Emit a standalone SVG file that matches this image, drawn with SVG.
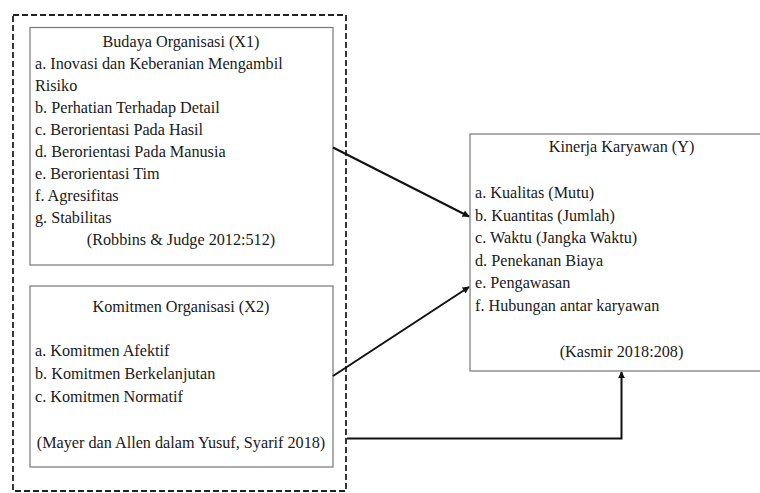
<svg xmlns="http://www.w3.org/2000/svg" width="760" height="493" viewBox="0 0 760 493">
<defs>
<marker id="ah" viewBox="0 0 10 10" refX="9" refY="5" markerWidth="7" markerHeight="7" markerUnits="userSpaceOnUse" orient="auto">
<path d="M0,0 L10,5 L0,10 z" fill="#111"/>
</marker>
<style>
text{font-family:"Liberation Serif","Times New Roman",serif;font-size:16.2px;fill:#1a1a1a}
.c{text-anchor:middle}
.box{fill:#fff;stroke:#777;stroke-width:1.2}
.conn{fill:none;stroke:#111;stroke-width:2}
</style>
</defs>
<rect width="760" height="493" fill="#fff"/>
<g id="group-X">
<rect x="13" y="15" width="333" height="476" fill="none" stroke="#222" stroke-width="1.8" stroke-dasharray="6 3"/>
</g>
<g id="node-X1">
<rect class="box" x="30" y="27.5" width="303" height="237.5"/>
<text class="c" x="181" y="46.5">Budaya Organisasi (X1)</text>
<text x="35" y="68.5">a. Inovasi dan Keberanian Mengambil</text>
<text x="35" y="90.5">Risiko</text>
<text x="35" y="112.5">b. Perhatian Terhadap Detail</text>
<text x="35" y="134.5">c. Berorientasi Pada Hasil</text>
<text x="35" y="156.5">d. Berorientasi Pada Manusia</text>
<text x="35" y="178.5">e. Berorientasi Tim</text>
<text x="35" y="200.5">f. Agresifitas</text>
<text x="35" y="222.5">g. Stabilitas</text>
<text class="c" x="181" y="245">(Robbins &amp; Judge 2012:512)</text>
</g>
<g id="node-X2">
<rect class="box" x="30" y="286" width="303" height="181"/>
<text class="c" x="181" y="311.5">Komitmen Organisasi (X2)</text>
<text x="35" y="356">a. Komitmen Afektif</text>
<text x="35" y="379">b. Komitmen Berkelanjutan</text>
<text x="35" y="401.5">c.  Komitmen Normatif</text>
<text class="c" x="181" y="448">(Mayer dan Allen dalam Yusuf, Syarif 2018)</text>
</g>
<g id="node-Y">
<rect class="box" x="470" y="134" width="300" height="237"/>
<text class="c" x="621.5" y="151.5">Kinerja Karyawan (Y)</text>
<text x="475" y="198">a. Kualitas (Mutu)</text>
<text x="475" y="220.5">b. Kuantitas (Jumlah)</text>
<text x="475" y="243">c. Waktu (Jangka Waktu)</text>
<text x="475" y="265.5">d. Penekanan Biaya</text>
<text x="475" y="288">e. Pengawasan</text>
<text x="475" y="310.5">f. Hubungan antar karyawan</text>
<text class="c" x="621.5" y="357">(Kasmir 2018:208)</text>
</g>
<g id="connectors">
<line class="conn" x1="333" y1="147.5" x2="469" y2="216.5" marker-end="url(#ah)"/>
<line class="conn" x1="333" y1="376" x2="469" y2="287" marker-end="url(#ah)"/>
<polyline class="conn" points="347,438.5 621.5,438.5 621.5,372" marker-end="url(#ah)"/>
</g>
</svg>
